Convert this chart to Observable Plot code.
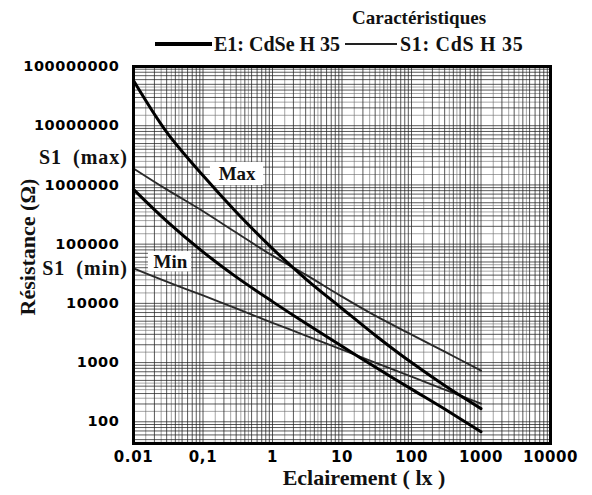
<!DOCTYPE html>
<html><head><meta charset="utf-8">
<script src="https://cdn.jsdelivr.net/npm/d3@7"></script>
<script src="https://cdn.jsdelivr.net/npm/@observablehq/plot@0.6"></script>
<style>
body{margin:0;background:#fff;}
#wrap{position:relative;width:592px;height:495px;overflow:hidden;}
#wrap svg{position:absolute;left:0;top:0;}
.serif{font-family:"Liberation Serif","Times New Roman",serif;font-weight:bold;position:absolute;white-space:nowrap;color:#111;line-height:1;}
#wrap svg g[aria-label="y-axis tick label"] text,#wrap svg g[aria-label="x-axis tick label"] text{font-family:"DejaVu Sans",sans-serif;font-weight:bold;}
#wrap svg g[aria-label="x-axis tick label"] text{letter-spacing:0.6px;}
</style></head><body><div id="wrap"></div>
<script>
// Illumination (lux) sample points
const lux = [0.01, 0.03, 0.1, 0.3, 1, 3, 10, 30, 100, 300, 1000];
// Resistance (ohm)
const e1Max = [5.8e7, 7.8e6, 1.44e6, 3.5e5, 8.4e4, 2.6e4, 8200, 2900, 1000, 410, 167];
const e1Min = [8.4e5, 2.45e5, 7.4e4, 2.8e4, 1.07e4, 4600, 1880, 840, 356, 164, 68];
const s1Max = [1.9e6, 8.4e5, 3.6e5, 1.57e5, 6.4e4, 3.06e4, 1.3e4, 6200, 2970, 1530, 730];
const s1Min = [3.9e4, 2.33e4, 1.36e4, 8200, 4700, 2860, 1660, 1000, 580, 350, 203];

const xTicks = [0.01, 0.1, 1, 10, 100, 1000, 10000];
const xTickLabels = ["0.01", "0,1", "1", "10", "100", "1000", "10000"];
const yTicks = [100, 1000, 10000, 100000, 1000000, 10000000, 100000000];
const yTickLabels = ["100", "1000", "10000", "100000", "1000000", "10000000", "100000000"];

const curveLabels = ["Max", "Min"];
const curveLabelX = [0.31, 0.034];
const curveLabelY = [1.55e6, 5.1e4];
const boxX1 = [0.128, 0.0164], boxX2 = [0.743, 0.0684];
const boxY1 = [2.39e6, 7.5e4], boxY2 = [9.8e5, 3.4e4];

const sideLabels = ["S1 (max)", "S1 (min)"];
const sideLabelY = [2.9e6, 3.9e4];

// grid of log paper
const mult = [1, 2, 3, 4, 5, 6, 7, 8, 9];
const half = [1.5, 2.5, 3.5, 4.5];
const xMajor = [], xMinor = [], yMajor = [], yMinor = [];
for (let e = -2; e <= 4; e++) {
  for (const m of mult) { const v = m * 10 ** e; if (v <= 10000) xMajor.push(v); }
  for (const m of half) { const v = m * 10 ** e; if (v < 10000) xMinor.push(v); }
}
for (let e = 1; e <= 8; e++) {
  for (const m of mult) { const v = m * 10 ** e; if (v >= 43 && v <= 1e8) yMajor.push(v); }
  for (const m of half) { const v = m * 10 ** e; if (v >= 43 && v < 1e8) yMinor.push(v); }
}

const toRows = arr => lux.map((x, i) => ({x, r: arr[i]}));
const boxes = curveLabels.map((t, i) => ({t, x: curveLabelX[i], y: curveLabelY[i], x1: boxX1[i], x2: boxX2[i], y1: boxY1[i], y2: boxY2[i]}));
const sides = sideLabels.map((t, i) => ({t, y: sideLabelY[i]}));

const chart = Plot.plot({
  width: 592, height: 495,
  marginLeft: 133, marginRight: 42, marginTop: 66, marginBottom: 52,
  x: {type: "log", domain: [0.01, 10000]},
  y: {type: "log", domain: [43, 1e8]},
  style: {background: "white"},
  marks: [
    Plot.ruleX(xMinor, {stroke: "#666", strokeWidth: 0.9, strokeOpacity: 0.65}),
    Plot.ruleY(yMinor, {stroke: "#666", strokeWidth: 0.9, strokeOpacity: 0.65}),
    Plot.ruleX(xMajor, {stroke: "#222", strokeWidth: 1, strokeOpacity: 0.75}),
    Plot.ruleY(yMajor, {stroke: "#222", strokeWidth: 1, strokeOpacity: 0.75}),
    Plot.rect(boxes, {x1: "x1", x2: "x2", y1: "y1", y2: "y2", fill: "white"}),
    Plot.line(toRows(s1Max), {x: "x", y: "r", stroke: "#2a2a2a", strokeWidth: 1.9, curve: "catmull-rom"}),
    Plot.line(toRows(s1Min), {x: "x", y: "r", stroke: "#2a2a2a", strokeWidth: 1.9, curve: "catmull-rom"}),
    Plot.line(toRows(e1Max), {x: "x", y: "r", stroke: "#000", strokeWidth: 3, curve: "catmull-rom"}),
    Plot.line(toRows(e1Min), {x: "x", y: "r", stroke: "#000", strokeWidth: 3, curve: "catmull-rom"}),
    Plot.text(boxes, {x: "x", y: "y", text: "t", fontSize: 19, fontWeight: "bold", fontFamily: "Liberation Serif", fill: "#111"}),
    Plot.frame({stroke: "#000", strokeWidth: 3}),
    Plot.axisX({ticks: xTicks, tickFormat: d => xTickLabels[xTicks.indexOf(d)], tickSize: 0, tickPadding: 8, fontSize: 15, label: null}),
    Plot.axisY({ticks: yTicks, tickFormat: d => yTickLabels[yTicks.indexOf(d)], tickSize: 0, tickPadding: 14, fontSize: 14.5, label: null})
  ]
});
const wrap = document.getElementById("wrap");
wrap.appendChild(chart);

// widen the y tick labels to the spacing of the reference print (about 10.7px per digit)
chart.querySelectorAll('g[aria-label="y-axis tick label"] text').forEach(t => {
  t.style.letterSpacing = "0px";
  const n = t.textContent.length;
  const len = t.getComputedTextLength();
  const ls = Math.max(0, (n * 10.7 - len) / n);
  t.style.letterSpacing = ls.toFixed(2) + "px";
});

const yScale = chart.scale("y");
function addText(txt, left, top, size, extra) {
  const d = document.createElement("div");
  d.className = "serif";
  d.textContent = txt;
  d.style.left = left + "px";
  d.style.top = top + "px";
  d.style.fontSize = size + "px";
  if (extra) Object.assign(d.style, extra);
  wrap.appendChild(d);
  return d;
}
function addLine(left, top, w, h, color) {
  const d = document.createElement("div");
  Object.assign(d.style, {position: "absolute", left: left + "px", top: top + "px", width: w + "px", height: h + "px", background: color});
  wrap.appendChild(d);
}
sides.forEach(s => {
  const py = yScale.apply(s.y);
  addText(s.t, 128, py, 20, {transform: "translate(-100%,-50%)", wordSpacing: "5px", letterSpacing: "1px"});
});
addText("Caractéristiques", 352, 8, 19);
addLine(155, 42, 57, 3.5, "#000");
addText("E1: CdSe H 35", 214, 34, 20);
addLine(345, 43, 52, 1.6, "#222");
addText("S1: CdS H 35", 400, 34, 20, {letterSpacing: "0.7px"});
addText("Eclairement ( lx )", 364, 478, 22, {transform: "translate(-50%,-50%)"});
addText("Résistance (Ω)", 28, 247, 22, {transform: "translate(-50%,-50%) rotate(-90deg)"});
</script></body></html>
